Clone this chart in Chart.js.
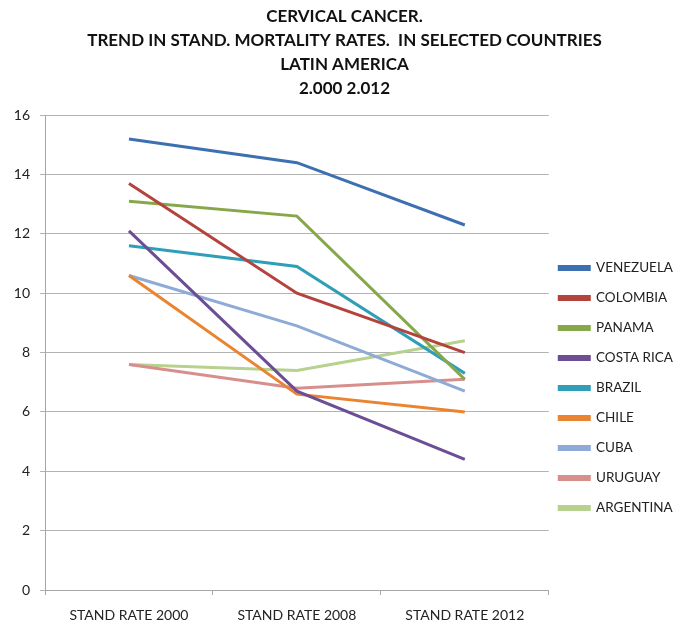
<!DOCTYPE html>
<html>
<head>
<meta charset="utf-8">
<script src="https://cdn.jsdelivr.net/npm/chart.js@4.4.1/dist/chart.umd.min.js"></script>
<style>
  html, body { margin: 0; padding: 0; background: #fff; }
  #wrap { width: 674px; height: 627px; }
</style>
</head>
<body>
<div id="wrap"><canvas id="chart" width="674" height="627"></canvas></div>
<script>
// categories and series values
const periods = [ 'STAND RATE 2000', 'STAND RATE 2008', 'STAND RATE 2012' ]

const venezuela = [ 15.2, 14.4, 12.3 ]
const colombia  = [ 13.7, 10.0, 8.0 ]
const panama    = [ 13.1, 12.6, 7.1 ]
const costaRica = [ 12.1, 6.7, 4.4 ]
const brazil    = [ 11.6, 10.9, 7.3 ]
const chile     = [ 10.6, 6.6, 6.0 ]
const cuba      = [ 10.6, 8.9, 6.7 ]
const uruguay   = [ 7.6, 6.8, 7.1 ]
const argentina = [ 7.6, 7.4, 8.4 ]

const titleLines = [
  'CERVICAL CANCER.',
  'TREND IN STAND. MORTALITY RATES.  IN SELECTED COUNTRIES',
  'LATIN AMERICA',
  '2.000 2.012'
]

const series = [
  [ 'VENEZUELA', venezuela, '#3c70b0' ],
  [ 'COLOMBIA', colombia, '#b4423d' ],
  [ 'PANAMA', panama, '#86a84a' ],
  [ 'COSTA RICA', costaRica, '#6b4e94' ],
  [ 'BRAZIL', brazil, '#2f9fb8' ],
  [ 'CHILE', chile, '#ea8430' ],
  [ 'CUBA', cuba, '#8eaad6' ],
  [ 'URUGUAY', uruguay, '#d68f8d' ],
  [ 'ARGENTINA', argentina, '#b7d18e' ]
]

const FONT = 'Lato, "Open Sans", sans-serif'

// nudge the legend block to where the original sits (right of the plot, a bit low)
const legendShift = {
  id: 'legendShift',
  afterLayout( chart ) {
    const lg = chart.legend
    lg.left -= 6
    lg.right -= 6
    lg.top += 76
    lg.bottom += 76
  }
}

new Chart( document.getElementById( 'chart' ), {
  type: 'line',
  data: {
    labels: periods,
    datasets: series.map( ( [ name, values, color ] ) => ( {
      label: name,
      data: values,
      borderColor: color,
      backgroundColor: color,
      borderWidth: 3,
      pointRadius: 0,
      tension: 0
    } ) )
  },
  plugins: [ legendShift ],
  options: {
    responsive: false,
    animation: false,
    events: [ ],
    layout: { padding: { left: 0, right: -15, top: 0, bottom: 3 } },
    plugins: {
      title: {
        display: true,
        text: titleLines,
        color: '#111',
        font: { family: FONT, size: 17, weight: 'bold', lineHeight: 1.4 },
        padding: { top: 5, bottom: 15 }
      },
      legend: {
        position: 'right',
        align: 'center',
        labels: {
          boxWidth: 30,
          boxHeight: 3,
          padding: 16.5,
          color: '#222',
          font: { family: FONT, size: 13.5 }
        }
      },
      tooltip: { enabled: false }
    },
    scales: {
      x: {
        offset: true,
        afterFit: ( scale ) => { scale.height = 34 },
        grid: { display: true, drawOnChartArea: false, offset: true, tickLength: 5, color: '#a6a6a6' },
        border: { color: '#a6a6a6' },
        ticks: { color: '#222', font: { family: FONT, size: 14 }, padding: 12, maxRotation: 0 }
      },
      y: {
        min: 0,
        max: 16,
        afterFit: ( scale ) => { scale.width = 45 },
        grid: { color: '#b3b3b3', tickLength: 5 },
        border: { color: '#a6a6a6' },
        ticks: { stepSize: 2, color: '#222', font: { family: FONT, size: 14 }, padding: 10 }
      }
    }
  }
} )
</script>
</body>
</html>
